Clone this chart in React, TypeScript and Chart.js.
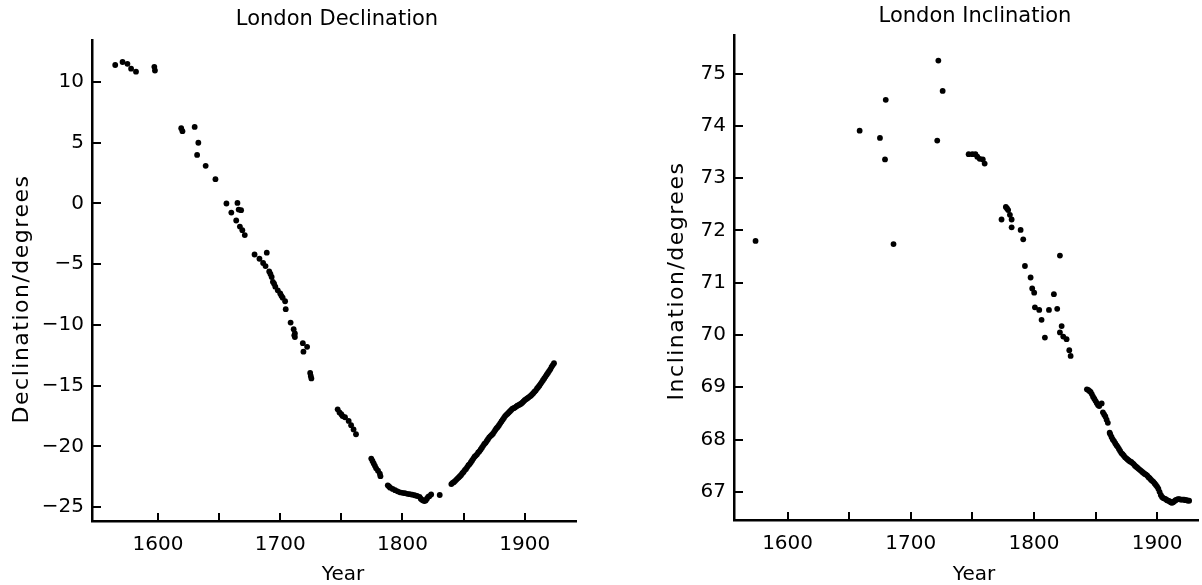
import React, { useEffect, useRef } from 'react';
import { Chart, registerables } from 'chart.js';

Chart.register(...registerables);

// ---------- Data: London Declination ----------
const decYears = [
  1565, 1571, 1575, 1578, 1582, 1597, 1597.5,
  1619, 1620, 1630, 1633, 1632, 1639, 1647,
  1656, 1665, 1660, 1666, 1668, 1664, 1667, 1669, 1671,
  1679, 1689, 1683, 1686, 1688, 1691, 1692, 1693, 1694, 1695, 1696, 1698, 1700, 1701, 1702, 1704, 1704.5,
  1708.5, 1711, 1712, 1712, 1711.5, 1718.5, 1722, 1719, 1724.5, 1725, 1725.5,
  1747, 1748.5, 1750, 1751, 1753, 1756, 1758, 1760, 1762,
  1774.5, 1775.5, 1776.5, 1777.5, 1778.5, 1780, 1781.5, 1782,
  1788, 1789, 1790, 1792, 1794, 1796, 1798, 1800, 1802, 1804, 1806, 1808, 1810, 1812, 1814, 1815, 1816,
  1817, 1818, 1819, 1820, 1821, 1822, 1823.5, 1830.5,
  1840, 1841, 1842, 1843, 1844, 1845, 1846, 1847, 1848, 1849, 1850, 1851, 1852, 1853, 1854, 1855, 1856,
  1857, 1858, 1859, 1860, 1861, 1862, 1863, 1864, 1865, 1866, 1867, 1868, 1869, 1870, 1871, 1872, 1873,
  1874, 1875, 1876, 1877, 1878, 1879, 1880, 1881, 1882, 1883, 1884, 1885, 1886, 1887, 1888, 1889, 1890,
  1891, 1892, 1893, 1894, 1895, 1896, 1897, 1898, 1899, 1900, 1901, 1902, 1903, 1904, 1905, 1906, 1907,
  1908, 1909, 1910, 1911, 1912, 1913, 1914, 1915, 1916, 1917, 1918, 1919, 1920, 1921, 1922, 1923, 1924,
];
const decValues = [
  11.4, 11.65, 11.5, 11.1, 10.85, 11.25, 10.95,
  6.2, 5.95, 6.3, 5.0, 4.0, 3.1, 2.0,
  0.0, 0.05, -0.75, -0.5, -0.55, -1.4, -1.9, -2.2, -2.6,
  -4.2, -4.05, -4.55, -4.9, -5.15, -5.6, -5.8, -6.05, -6.45, -6.6, -6.85, -7.15, -7.4, -7.6, -7.75, -8.05, -8.7,
  -9.8, -10.35, -10.7, -11.0, -10.85, -11.5, -11.8, -12.2, -13.95, -14.2, -14.4,
  -16.95, -17.2, -17.35, -17.5, -17.6, -17.9, -18.25, -18.6, -19.0,
  -21.0, -21.2, -21.4, -21.6, -21.8, -22.0, -22.25, -22.45,
  -23.2, -23.3, -23.4, -23.5, -23.6, -23.7, -23.78, -23.82, -23.85, -23.9, -23.93, -23.97, -24.02, -24.08, -24.15, -24.3, -24.4,
  -24.45, -24.5, -24.45, -24.3, -24.15, -24.1, -23.95, -24.0,
  -23.1, -23.0, -22.95, -22.85, -22.75, -22.65, -22.55, -22.45, -22.35, -22.2, -22.1, -21.95, -21.85, -21.7, -21.55, -21.45, -21.3,
  -21.15, -21.0, -20.85, -20.75, -20.65, -20.5, -20.4, -20.25, -20.1, -19.95, -19.8, -19.7, -19.55, -19.4, -19.25, -19.15, -19.05,
  -18.95, -18.8, -18.65, -18.5, -18.4, -18.25, -18.1, -17.95, -17.8, -17.65, -17.5, -17.4, -17.3, -17.2, -17.1, -17.0, -16.9,
  -16.85, -16.8, -16.72, -16.65, -16.6, -16.55, -16.48, -16.4, -16.3, -16.2, -16.12, -16.05, -15.98, -15.9, -15.82, -15.72, -15.62,
  -15.5, -15.4, -15.25, -15.12, -15.0, -14.85, -14.7, -14.55, -14.4, -14.25, -14.1, -13.95, -13.8, -13.65, -13.45, -13.3, -13.15,
];

// ---------- Data: London Inclination ----------
const incYears = [
  1574, 1658.5, 1675, 1679.7, 1679.1, 1686, 1722.4, 1725.9, 1721.5,
  1747, 1750, 1752.5, 1754, 1756, 1758.5, 1760,
  1773.7, 1777.2, 1778.2, 1779.1, 1780.5, 1781.9, 1781.9, 1789.2, 1791.3, 1821.1, 1792.7, 1797.3, 1798.6,
  1800.2, 1816.2, 1800.8, 1804.3, 1812.2, 1818.9, 1806.2, 1822.5, 1821.1, 1823.8, 1826.5, 1808.9, 1828.7, 1829.8,
  1843, 1844, 1845, 1846, 1847, 1848, 1849, 1850, 1851, 1852, 1853,
  1855, 1856, 1857, 1858, 1859, 1860,
  1861.5, 1862, 1863, 1864, 1865, 1866, 1867, 1868, 1869, 1870, 1871, 1872, 1873, 1874, 1875, 1876, 1877,
  1878, 1879, 1880, 1881, 1882, 1883, 1884, 1885, 1886, 1887, 1888, 1889, 1890, 1891, 1892, 1893, 1894,
  1895, 1896, 1897, 1898, 1899, 1900, 1901, 1902, 1903, 1904, 1905, 1906, 1907, 1908, 1909, 1910, 1911,
  1912, 1913, 1914, 1915, 1916, 1917, 1918, 1919, 1920, 1921, 1922, 1923, 1924, 1925, 1926,
];
const incValues = [
  71.8, 73.91, 73.77, 74.5, 73.36, 71.74, 75.25, 74.67, 73.72,
  73.46, 73.46, 73.46, 73.41, 73.37, 73.36, 73.28,
  72.21, 72.45, 72.42, 72.39, 72.3, 72.21, 72.06, 72.01, 71.83, 71.52, 71.32, 71.1, 70.89,
  70.81, 70.78, 70.53, 70.48, 70.48, 70.5, 70.29, 70.17, 70.05, 69.97, 69.92, 69.95, 69.71, 69.6,
  68.96, 68.95, 68.93, 68.91, 68.87, 68.82, 68.78, 68.74, 68.7, 68.66, 68.64,
  68.69, 68.52, 68.48, 68.44, 68.38, 68.32,
  68.13, 68.1, 68.05, 68.0, 67.97, 67.93, 67.89, 67.86, 67.82, 67.78, 67.74, 67.72, 67.69, 67.66, 67.64, 67.62, 67.6,
  67.58, 67.57, 67.55, 67.53, 67.5, 67.48, 67.46, 67.44, 67.42, 67.4, 67.38, 67.36, 67.34, 67.33, 67.31, 67.28, 67.26,
  67.23, 67.21, 67.19, 67.16, 67.13, 67.1, 67.06, 67.0, 66.94, 66.9, 66.88, 66.87, 66.86, 66.84, 66.83, 66.82, 66.8,
  66.79, 66.8, 66.82, 66.84, 66.85, 66.86, 66.86, 66.85, 66.85, 66.85, 66.85, 66.84, 66.84, 66.83, 66.83,
];

// ---------- Ticks / labels ----------
const xTickYears = [1600, 1650, 1700, 1750, 1800, 1850, 1900];
const xLabelYears = [1600, 1700, 1800, 1900];
const decTicks = [-25, -20, -15, -10, -5, 0, 5, 10];
const incTicks = [67, 68, 69, 70, 71, 72, 73, 74, 75];

const FONT = '"DejaVu Sans", sans-serif';

function fmt(v: number): string {
  return v < 0 ? '\u2212' + Math.abs(v) : String(v);
}

type Cfg = {
  width: number;
  height: number;
  left: number;
  top: number;
  right: number;
  bottom: number;
  xMin: number;
  xMax: number;
  yMin: number;
  yMax: number;
  yTicks: number[];
  title: string;
  titleX: number;
  titleY: number;
  yTitle: string;
  yTitleX: number;
  yTitleY: number;
  xTitleX: number;
  xTitleY: number;
  xs: number[];
  ys: number[];
};

function makeChart(canvas: HTMLCanvasElement, c: Cfg) {
  const points = c.xs.map((x, i) => ({ x, y: c.ys[i] }));
  const deco = {
    id: 'deco',
    afterDraw(chart: any) {
      const ctx = chart.ctx;
      const area = chart.chartArea;
      const xs = chart.scales.x;
      const ys = chart.scales.y;
      ctx.save();
      ctx.strokeStyle = '#000';
      ctx.lineWidth = 2;
      xTickYears.forEach((v) => {
        if (v < xs.min || v > xs.max) return;
        const px = Math.round(xs.getPixelForValue(v));
        ctx.beginPath();
        ctx.moveTo(px, area.bottom);
        ctx.lineTo(px, area.bottom - 8);
        ctx.stroke();
      });
      c.yTicks.forEach((v) => {
        const py = Math.round(ys.getPixelForValue(v));
        ctx.beginPath();
        ctx.moveTo(area.left, py);
        ctx.lineTo(area.left + 9, py);
        ctx.stroke();
      });
      ctx.fillStyle = '#000';
      ctx.textAlign = 'center';
      ctx.textBaseline = 'middle';
      ctx.font = '21px ' + FONT;
      ctx.fillText(c.title, c.titleX, c.titleY);
      ctx.font = '20px ' + FONT;
      ctx.fillText('Year', c.xTitleX, c.xTitleY);
      ctx.translate(c.yTitleX, c.yTitleY);
      ctx.rotate(-Math.PI / 2);
      ctx.font = '22px ' + FONT;
      try { (ctx as any).letterSpacing = '1.5px'; } catch (e) {}
      ctx.fillText(c.yTitle, 0, 0);
      try { (ctx as any).letterSpacing = '0px'; } catch (e) {}
      ctx.restore();
    },
  };
  return new Chart(canvas, {
    type: 'scatter',
    data: {
      datasets: [
        {
          data: points,
          pointRadius: 2.9,
          pointHoverRadius: 2.9,
          pointBackgroundColor: '#000',
          pointBorderWidth: 0,
          showLine: false,
        },
      ],
    },
    options: {
      animation: false,
      responsive: false,
      events: [],
      layout: { padding: { left: 0, top: c.top, right: c.width - c.right, bottom: 0 } },
      plugins: { legend: { display: false }, tooltip: { enabled: false }, title: { display: false } },
      scales: {
        x: {
          type: 'linear',
          min: c.xMin,
          max: c.xMax,
          grid: { display: false, drawTicks: false },
          border: { display: true, color: '#000', width: 2.5 },
          afterBuildTicks: (s: any) => {
            s.ticks = xLabelYears.map((value) => ({ value }));
          },
          afterFit: (s: any) => {
            s.height = c.height - c.bottom;
          },
          ticks: {
            autoSkip: false,
            maxRotation: 0,
            padding: 12,
            color: '#000',
            font: { family: FONT, size: 20 },
            callback: (v: any) => String(v),
          },
        },
        y: {
          type: 'linear',
          min: c.yMin,
          max: c.yMax,
          grid: { display: false, drawTicks: false },
          border: { display: true, color: '#000', width: 2.5 },
          afterBuildTicks: (s: any) => {
            s.ticks = c.yTicks.map((value) => ({ value }));
          },
          afterFit: (s: any) => {
            s.width = c.left;
          },
          ticks: {
            autoSkip: false,
            padding: 8,
            color: '#000',
            font: { family: FONT, size: 20 },
            callback: (v: any) => fmt(Number(v)),
          },
        },
      },
    },
    plugins: [deco],
  } as any);
}

const leftCfg: Cfg = {
  width: 600, height: 585, left: 92, top: 40, right: 576, bottom: 521,
  xMin: 1546, xMax: 1942, yMin: -26.14, yMax: 13.46, yTicks: decTicks,
  title: 'London Declination', titleX: 337, titleY: 20,
  yTitle: 'Declination/degrees', yTitleX: 22, yTitleY: 299,
  xTitleX: 343, xTitleY: 575,
  xs: decYears, ys: decValues,
};

const rightCfg: Cfg = {
  width: 602, height: 585, left: 134, top: 35, right: 598, bottom: 520,
  xMin: 1556.5, xMax: 1933.2, yMin: 66.46, yMax: 75.74, yTicks: incTicks,
  title: 'London Inclination', titleX: 375, titleY: 17,
  yTitle: 'Inclination/degrees', yTitleX: 77, yTitleY: 281,
  xTitleX: 374, xTitleY: 575,
  xs: incYears, ys: incValues,
};

function ChartBox(props: { cfg: Cfg; x: number }) {
  const ref = useRef<HTMLCanvasElement>(null);
  useEffect(() => {
    if (!ref.current) return;
    const ch = makeChart(ref.current, props.cfg);
    return () => ch.destroy();
  }, []);
  return (
    <canvas
      ref={ref}
      width={props.cfg.width}
      height={props.cfg.height}
      style={{ position: 'absolute', left: props.x, top: 0, width: props.cfg.width, height: props.cfg.height }}
    />
  );
}

export default function App() {
  return (
    <div style={{ position: 'absolute', left: 0, top: 0, width: 1202, height: 585, background: '#fff', overflow: 'hidden' }}>
      <ChartBox cfg={leftCfg} x={0} />
      <ChartBox cfg={rightCfg} x={600} />
    </div>
  );
}
